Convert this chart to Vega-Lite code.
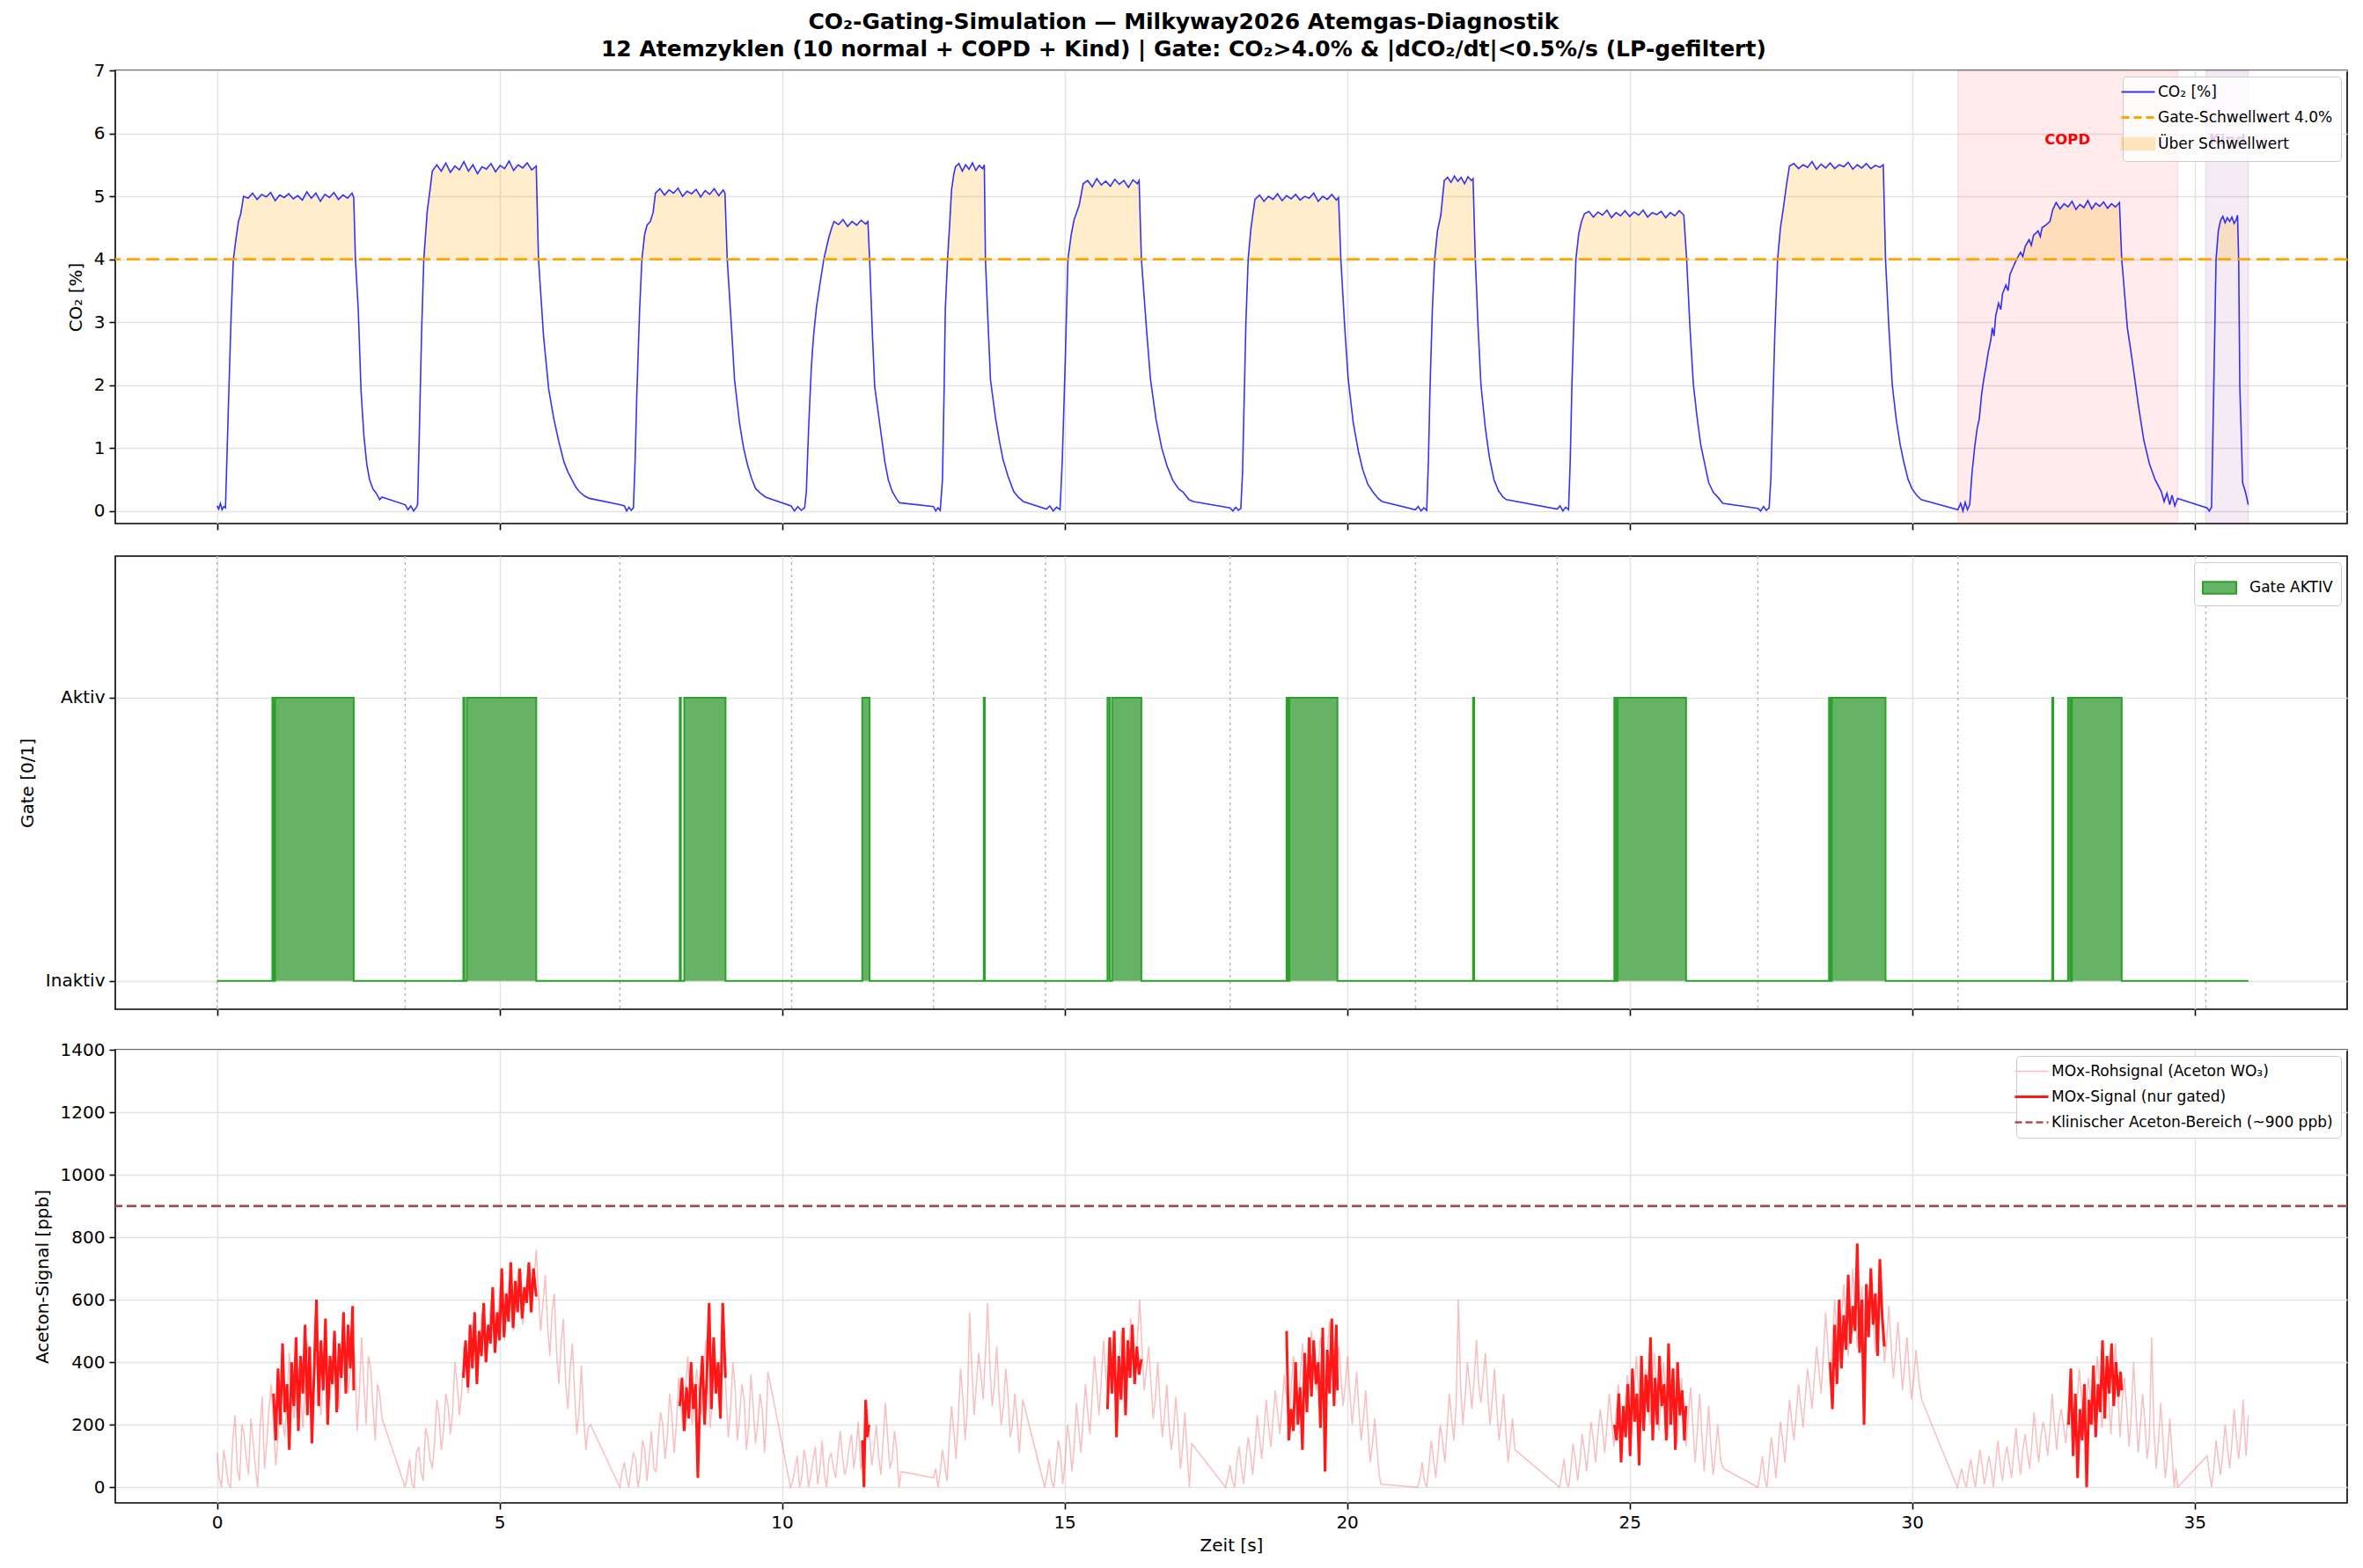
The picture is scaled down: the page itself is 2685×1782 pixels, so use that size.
{
  "$schema": "https://vega.github.io/schema/vega-lite/v6.json",
  "background": "white",
  "padding": {"left": 20, "top": 13, "right": 17, "bottom": 10},
  "title": {
    "text": ["CO₂-Gating-Simulation — Milkyway2026 Atemgas-Diagnostik", "12 Atemzyklen (10 normal + COPD + Kind) | Gate: CO₂>4.0% & |dCO₂/dt|<0.5%/s (LP-gefiltert)"],
    "fontSize": 25, "fontWeight": "bold", "lineHeight": 31, "offset": 0, "anchor": "middle", "color": "black", "font": "DejaVu Sans"
  },
  "config": {
    "font": "DejaVu Sans",
    "view": {"stroke": "black", "strokeWidth": 1.6},
    "axis": {"domain": false, "tickColor": "black", "tickSize": 7, "tickWidth": 1.6, "labelFontSize": 20, "labelColor": "black", "titleFontSize": 20, "titleFontWeight": "normal", "titleColor": "black", "gridColor": "#e3e3e3", "gridWidth": 1.5, "labelPadding": 5, "titlePadding": 10, "labelFont": "DejaVu Sans", "titleFont": "DejaVu Sans", "format": "d"},
    "legend": {"orient": "top-right", "offset": 7, "labelFontSize": 17, "labelFont": "DejaVu Sans", "labelColor": "black", "fillColor": "rgba(255,255,255,0.8)", "strokeColor": "#cccccc", "padding": 9, "cornerRadius": 4, "symbolSize": 1444, "labelOffset": 14, "rowPadding": 11, "labelLimit": 500}
  },
  "resolve": {"scale": {"color": "independent", "fill": "independent", "stroke": "independent"}, "legend": {"color": "independent"}},
  "datasets": {
    "zones": [{"a": 30.81, "b": 34.7, "m": 32.75, "z": "COPD"}, {"a": 35.2, "b": 35.95, "m": 35.58, "z": "Kind"}],
    "starts": [{"t": 0}, {"t": 3.33}, {"t": 7.13}, {"t": 10.17}, {"t": 12.68}, {"t": 14.66}, {"t": 17.93}, {"t": 21.21}, {"t": 23.72}, {"t": 27.27}, {"t": 30.81}, {"t": 35.2}],
    "co2": [
      {"t":0,"c":0.08},{"t":0.03,"c":0.03},{"t":0.06,"c":0.12},{"t":0.09,"c":0.02},{"t":0.12,"c":0.07},{"t":0.15,"c":0.05},{"t":0.2,"c":1.6},{"t":0.25,"c":3.1},
      {"t":0.29,"c":4,"k":1},{"t":0.34,"c":4.35,"k":1},{"t":0.38,"c":4.6,"k":1},{"t":0.42,"c":4.72,"k":1},{"t":0.47,"c":5,"k":1},{"t":0.55,"c":4.97,"k":1},{"t":0.63,"c":5.05,"k":1},{"t":0.71,"c":4.95,"k":1},{"t":0.79,"c":5.03,"k":1},{"t":0.87,"c":4.99,"k":1},{"t":0.95,"c":5.06,"k":1},{"t":1.03,"c":4.93,"k":1},{"t":1.11,"c":5.02,"k":1},{"t":1.19,"c":4.98,"k":1},{"t":1.27,"c":5.04,"k":1},{"t":1.35,"c":4.96,"k":1},{"t":1.43,"c":5.01,"k":1},{"t":1.51,"c":4.94,"k":1},{"t":1.59,"c":5.07,"k":1},{"t":1.67,"c":4.97,"k":1},{"t":1.75,"c":5.05,"k":1},{"t":1.83,"c":4.92,"k":1},{"t":1.91,"c":5.03,"k":1},{"t":1.99,"c":4.98,"k":1},{"t":2.07,"c":5.06,"k":1},{"t":2.15,"c":4.95,"k":1},{"t":2.23,"c":5.02,"k":1},{"t":2.31,"c":4.97,"k":1},{"t":2.39,"c":5.05,"k":1},{"t":2.42,"c":4.98,"k":1},{"t":2.45,"c":4,"k":1},
      {"t":2.5,"c":3.2},{"t":2.55,"c":1.9},{"t":2.6,"c":1.2},{"t":2.65,"c":0.75},{"t":2.7,"c":0.5},{"t":2.76,"c":0.35},{"t":2.82,"c":0.28},{"t":2.88,"c":0.18},{"t":2.92,"c":0.22},{"t":3.33,"c":0.1},{"t":3.38,"c":0.02},{"t":3.43,"c":0.08},{"t":3.48,"c":0},{"t":3.53,"c":0.06},
      {"t":3.55,"c":0.1},{"t":3.58,"c":1.2},{"t":3.62,"c":2.8},{"t":3.66,"c":4,"k":2},{"t":3.72,"c":4.75,"k":2},{"t":3.77,"c":5.1,"k":2},{"t":3.81,"c":5.4,"k":2},{"t":3.89,"c":5.5,"k":2},{"t":3.97,"c":5.4,"k":2},{"t":4.05,"c":5.53,"k":2},{"t":4.13,"c":5.38,"k":2},{"t":4.21,"c":5.48,"k":2},{"t":4.29,"c":5.42,"k":2},{"t":4.37,"c":5.55,"k":2},{"t":4.45,"c":5.4,"k":2},{"t":4.53,"c":5.5,"k":2},{"t":4.61,"c":5.36,"k":2},{"t":4.69,"c":5.47,"k":2},{"t":4.77,"c":5.43,"k":2},{"t":4.85,"c":5.52,"k":2},{"t":4.93,"c":5.39,"k":2},{"t":5.01,"c":5.49,"k":2},{"t":5.09,"c":5.44,"k":2},{"t":5.17,"c":5.56,"k":2},{"t":5.25,"c":5.41,"k":2},{"t":5.33,"c":5.5,"k":2},{"t":5.41,"c":5.45,"k":2},{"t":5.49,"c":5.53,"k":2},{"t":5.57,"c":5.42,"k":2},{"t":5.65,"c":5.48,"k":2},{"t":5.69,"c":4,"k":2},
      {"t":5.78,"c":2.77},{"t":5.87,"c":1.94},{"t":5.96,"c":1.47},{"t":6.05,"c":1.1},{"t":6.14,"c":0.78},{"t":6.21,"c":0.62},{"t":6.28,"c":0.5},{"t":6.35,"c":0.38},{"t":6.41,"c":0.31},{"t":6.5,"c":0.24},{"t":6.59,"c":0.2},{"t":7.13,"c":0.1},{"t":7.21,"c":0.08},{"t":7.25,"c":0},{"t":7.29,"c":0.06},{"t":7.33,"c":0.01},{"t":7.37,"c":0.05},
      {"t":7.4,"c":0.8},{"t":7.43,"c":1.84},{"t":7.48,"c":3.2},{"t":7.52,"c":4,"k":3},{"t":7.57,"c":4.4,"k":3},{"t":7.61,"c":4.54,"k":3},{"t":7.67,"c":4.6,"k":3},{"t":7.72,"c":4.75,"k":3},{"t":7.76,"c":5.05,"k":3},{"t":7.84,"c":5.12,"k":3},{"t":7.92,"c":5.02,"k":3},{"t":8,"c":5.1,"k":3},{"t":8.08,"c":5.05,"k":3},{"t":8.16,"c":5.13,"k":3},{"t":8.24,"c":5,"k":3},{"t":8.32,"c":5.08,"k":3},{"t":8.4,"c":5.04,"k":3},{"t":8.48,"c":5.11,"k":3},{"t":8.56,"c":4.99,"k":3},{"t":8.64,"c":5.09,"k":3},{"t":8.72,"c":5.03,"k":3},{"t":8.8,"c":5.12,"k":3},{"t":8.88,"c":5.01,"k":3},{"t":8.96,"c":5.1,"k":3},{"t":8.99,"c":5.05,"k":3},{"t":9.03,"c":4,"k":3},
      {"t":9.1,"c":3},{"t":9.16,"c":2.08},{"t":9.25,"c":1.38},{"t":9.32,"c":1},{"t":9.39,"c":0.73},{"t":9.46,"c":0.52},{"t":9.53,"c":0.36},{"t":9.62,"c":0.28},{"t":9.71,"c":0.22},{"t":10.16,"c":0.08},{"t":10.22,"c":0},{"t":10.28,"c":0.07},{"t":10.34,"c":0.01},{"t":10.4,"c":0.05},
      {"t":10.43,"c":0.3},{"t":10.47,"c":1.3},{"t":10.52,"c":2.31},{"t":10.56,"c":2.8},{"t":10.61,"c":3.24},{"t":10.67,"c":3.6},{"t":10.74,"c":4,"k":4},{"t":10.79,"c":4.2,"k":4},{"t":10.83,"c":4.35,"k":4},{"t":10.88,"c":4.5,"k":4},{"t":10.92,"c":4.6,"k":4},{"t":11,"c":4.55,"k":4},{"t":11.08,"c":4.63,"k":4},{"t":11.16,"c":4.52,"k":4},{"t":11.24,"c":4.6,"k":4},{"t":11.32,"c":4.54,"k":4},{"t":11.4,"c":4.62,"k":4},{"t":11.48,"c":4.56,"k":4},{"t":11.52,"c":4.6,"k":4},{"t":11.55,"c":4,"k":4},
      {"t":11.6,"c":2.8},{"t":11.64,"c":1.98},{"t":11.73,"c":1.38},{"t":11.82,"c":0.78},{"t":11.88,"c":0.5},{"t":11.95,"c":0.31},{"t":12.02,"c":0.2},{"t":12.08,"c":0.13},{"t":12.68,"c":0.07},{"t":12.72,"c":0},{"t":12.76,"c":0.05},{"t":12.8,"c":0.01},
      {"t":12.84,"c":0.5},{"t":12.87,"c":2},{"t":12.89,"c":3.2},{"t":12.93,"c":4,"k":5},{"t":12.97,"c":4.6,"k":5},{"t":13,"c":5.1,"k":5},{"t":13.04,"c":5.35,"k":5},{"t":13.07,"c":5.47,"k":5},{"t":13.13,"c":5.52,"k":5},{"t":13.19,"c":5.4,"k":5},{"t":13.25,"c":5.5,"k":5},{"t":13.31,"c":5.43,"k":5},{"t":13.37,"c":5.53,"k":5},{"t":13.43,"c":5.41,"k":5},{"t":13.49,"c":5.49,"k":5},{"t":13.55,"c":5.44,"k":5},{"t":13.58,"c":5.5,"k":5},{"t":13.6,"c":4,"k":5},
      {"t":13.65,"c":2.9},{"t":13.69,"c":2.08},{"t":13.78,"c":1.47},{"t":13.85,"c":1.1},{"t":13.91,"c":0.82},{"t":14,"c":0.55},{"t":14.1,"c":0.31},{"t":14.18,"c":0.22},{"t":14.27,"c":0.15},{"t":14.68,"c":0.03},{"t":14.74,"c":0.08},{"t":14.8,"c":0},{"t":14.86,"c":0.06},{"t":14.92,"c":0.02},
      {"t":14.96,"c":0.8},{"t":15.01,"c":2.3},{"t":15.06,"c":4,"k":6},{"t":15.12,"c":4.4,"k":6},{"t":15.17,"c":4.63,"k":6},{"t":15.26,"c":4.86,"k":6},{"t":15.33,"c":5.2,"k":6},{"t":15.41,"c":5.25,"k":6},{"t":15.49,"c":5.15,"k":6},{"t":15.57,"c":5.28,"k":6},{"t":15.65,"c":5.18,"k":6},{"t":15.73,"c":5.24,"k":6},{"t":15.81,"c":5.16,"k":6},{"t":15.89,"c":5.27,"k":6},{"t":15.97,"c":5.19,"k":6},{"t":16.05,"c":5.25,"k":6},{"t":16.13,"c":5.14,"k":6},{"t":16.21,"c":5.26,"k":6},{"t":16.29,"c":5.2,"k":6},{"t":16.32,"c":5.25,"k":6},{"t":16.36,"c":4,"k":6},
      {"t":16.45,"c":2.9},{"t":16.52,"c":2.1},{"t":16.62,"c":1.45},{"t":16.72,"c":1},{"t":16.82,"c":0.7},{"t":16.92,"c":0.48},{"t":17.02,"c":0.35},{"t":17.1,"c":0.3},{"t":17.2,"c":0.18},{"t":17.28,"c":0.15},{"t":17.93,"c":0.05},{"t":17.98,"c":0},{"t":18.03,"c":0.06},{"t":18.08,"c":0.01},{"t":18.12,"c":0.04},
      {"t":18.15,"c":0.6},{"t":18.18,"c":1.8},{"t":18.21,"c":3},{"t":18.25,"c":4,"k":7},{"t":18.3,"c":4.5,"k":7},{"t":18.37,"c":4.95,"k":7},{"t":18.45,"c":5.02,"k":7},{"t":18.53,"c":4.92,"k":7},{"t":18.61,"c":5,"k":7},{"t":18.69,"c":4.95,"k":7},{"t":18.77,"c":5.04,"k":7},{"t":18.85,"c":4.93,"k":7},{"t":18.93,"c":5.01,"k":7},{"t":19.01,"c":4.96,"k":7},{"t":19.09,"c":5.03,"k":7},{"t":19.17,"c":4.94,"k":7},{"t":19.25,"c":5,"k":7},{"t":19.33,"c":4.97,"k":7},{"t":19.41,"c":5.05,"k":7},{"t":19.49,"c":4.92,"k":7},{"t":19.57,"c":5,"k":7},{"t":19.65,"c":4.95,"k":7},{"t":19.73,"c":5.03,"k":7},{"t":19.81,"c":4.94,"k":7},{"t":19.85,"c":4.98,"k":7},{"t":19.89,"c":4,"k":7},
      {"t":19.96,"c":2.9},{"t":20.02,"c":2.1},{"t":20.11,"c":1.4},{"t":20.2,"c":0.95},{"t":20.28,"c":0.65},{"t":20.37,"c":0.42},{"t":20.46,"c":0.3},{"t":20.55,"c":0.2},{"t":20.62,"c":0.15},{"t":21.21,"c":0.02},{"t":21.26,"c":0.07},{"t":21.31,"c":0},{"t":21.36,"c":0.05},{"t":21.41,"c":0.01},
      {"t":21.44,"c":0.8},{"t":21.47,"c":2},{"t":21.51,"c":3.2},{"t":21.55,"c":4,"k":8},{"t":21.6,"c":4.45,"k":8},{"t":21.66,"c":4.7,"k":8},{"t":21.72,"c":5.25,"k":8},{"t":21.78,"c":5.3,"k":8},{"t":21.84,"c":5.22,"k":8},{"t":21.9,"c":5.32,"k":8},{"t":21.96,"c":5.24,"k":8},{"t":22.02,"c":5.3,"k":8},{"t":22.08,"c":5.2,"k":8},{"t":22.14,"c":5.31,"k":8},{"t":22.2,"c":5.25,"k":8},{"t":22.23,"c":5.28,"k":8},{"t":22.27,"c":4,"k":8},
      {"t":22.32,"c":2.9},{"t":22.37,"c":2},{"t":22.45,"c":1.3},{"t":22.52,"c":0.85},{"t":22.6,"c":0.5},{"t":22.68,"c":0.32},{"t":22.76,"c":0.22},{"t":22.82,"c":0.18},{"t":23.72,"c":0.03},{"t":23.77,"c":0.08},{"t":23.82,"c":0},{"t":23.87,"c":0.06},{"t":23.92,"c":0.02},
      {"t":23.95,"c":0.8},{"t":23.98,"c":2},{"t":24.02,"c":3.2},{"t":24.05,"c":4,"k":9},{"t":24.1,"c":4.4,"k":9},{"t":24.15,"c":4.6,"k":9},{"t":24.2,"c":4.72,"k":9},{"t":24.28,"c":4.76,"k":9},{"t":24.36,"c":4.67,"k":9},{"t":24.44,"c":4.75,"k":9},{"t":24.52,"c":4.7,"k":9},{"t":24.6,"c":4.78,"k":9},{"t":24.68,"c":4.66,"k":9},{"t":24.76,"c":4.74,"k":9},{"t":24.84,"c":4.69,"k":9},{"t":24.92,"c":4.77,"k":9},{"t":25,"c":4.68,"k":9},{"t":25.08,"c":4.75,"k":9},{"t":25.16,"c":4.7,"k":9},{"t":25.24,"c":4.78,"k":9},{"t":25.32,"c":4.67,"k":9},{"t":25.4,"c":4.74,"k":9},{"t":25.48,"c":4.71,"k":9},{"t":25.56,"c":4.76,"k":9},{"t":25.64,"c":4.66,"k":9},{"t":25.72,"c":4.74,"k":9},{"t":25.8,"c":4.69,"k":9},{"t":25.88,"c":4.77,"k":9},{"t":25.96,"c":4.7,"k":9},{"t":26.01,"c":4,"k":9},
      {"t":26.07,"c":2.9},{"t":26.13,"c":2},{"t":26.2,"c":1.45},{"t":26.26,"c":1.05},{"t":26.33,"c":0.75},{"t":26.4,"c":0.45},{"t":26.48,"c":0.3},{"t":26.58,"c":0.2},{"t":26.65,"c":0.12},{"t":27.27,"c":0.04},{"t":27.32,"c":0},{"t":27.37,"c":0.07},{"t":27.42,"c":0.01},{"t":27.47,"c":0.05},
      {"t":27.5,"c":0.5},{"t":27.53,"c":1.5},{"t":27.57,"c":2.8},{"t":27.62,"c":4,"k":10},{"t":27.67,"c":4.5,"k":10},{"t":27.72,"c":4.8,"k":10},{"t":27.78,"c":5.2,"k":10},{"t":27.83,"c":5.48,"k":10},{"t":27.91,"c":5.52,"k":10},{"t":27.99,"c":5.44,"k":10},{"t":28.07,"c":5.5,"k":10},{"t":28.15,"c":5.46,"k":10},{"t":28.23,"c":5.55,"k":10},{"t":28.31,"c":5.43,"k":10},{"t":28.39,"c":5.51,"k":10},{"t":28.47,"c":5.45,"k":10},{"t":28.55,"c":5.53,"k":10},{"t":28.63,"c":5.44,"k":10},{"t":28.71,"c":5.5,"k":10},{"t":28.79,"c":5.47,"k":10},{"t":28.87,"c":5.54,"k":10},{"t":28.95,"c":5.43,"k":10},{"t":29.03,"c":5.5,"k":10},{"t":29.11,"c":5.45,"k":10},{"t":29.19,"c":5.52,"k":10},{"t":29.27,"c":5.44,"k":10},{"t":29.35,"c":5.49,"k":10},{"t":29.43,"c":5.46,"k":10},{"t":29.49,"c":5.5,"k":10},{"t":29.53,"c":4,"k":10},
      {"t":29.59,"c":2.9},{"t":29.65,"c":2},{"t":29.72,"c":1.45},{"t":29.79,"c":1.05},{"t":29.86,"c":0.75},{"t":29.93,"c":0.5},{"t":30,"c":0.35},{"t":30.08,"c":0.25},{"t":30.16,"c":0.18},{"t":30.81,"c":0.02},{"t":30.86,"c":0.12},{"t":30.9,"c":0},{"t":30.94,"c":0.14},{"t":30.98,"c":0.02},{"t":31.02,"c":0.1},
      {"t":31.06,"c":0.6},{"t":31.11,"c":1.03},{"t":31.15,"c":1.3},{"t":31.19,"c":1.47},{"t":31.23,"c":1.85},{"t":31.27,"c":2.1},{"t":31.31,"c":2.3},{"t":31.35,"c":2.53},{"t":31.39,"c":2.7},{"t":31.42,"c":2.91},{"t":31.45,"c":2.78},{"t":31.48,"c":3.1},{"t":31.53,"c":3.3},{"t":31.57,"c":3.2},{"t":31.6,"c":3.45},{"t":31.66,"c":3.59},{"t":31.7,"c":3.5},{"t":31.73,"c":3.75},{"t":31.81,"c":3.92},
      {"t":31.85,"c":4,"k":11},{"t":31.92,"c":4.11,"k":11},{"t":31.96,"c":4.04,"k":11},{"t":32,"c":4.2,"k":11},{"t":32.07,"c":4.31,"k":11},{"t":32.11,"c":4.22,"k":11},{"t":32.15,"c":4.38,"k":11},{"t":32.23,"c":4.45,"k":11},{"t":32.27,"c":4.36,"k":11},{"t":32.3,"c":4.5,"k":11},{"t":32.38,"c":4.55,"k":11},{"t":32.44,"c":4.6,"k":11},{"t":32.49,"c":4.79,"k":11},{"t":32.55,"c":4.9,"k":11},{"t":32.62,"c":4.8,"k":11},{"t":32.69,"c":4.88,"k":11},{"t":32.76,"c":4.83,"k":11},{"t":32.83,"c":4.92,"k":11},{"t":32.9,"c":4.79,"k":11},{"t":32.97,"c":4.87,"k":11},{"t":33.04,"c":4.82,"k":11},{"t":33.11,"c":4.93,"k":11},{"t":33.18,"c":4.8,"k":11},{"t":33.25,"c":4.89,"k":11},{"t":33.32,"c":4.84,"k":11},{"t":33.39,"c":4.91,"k":11},{"t":33.46,"c":4.81,"k":11},{"t":33.53,"c":4.88,"k":11},{"t":33.6,"c":4.83,"k":11},{"t":33.67,"c":4.9,"k":11},{"t":33.71,"c":4,"k":11},
      {"t":33.74,"c":3.68},{"t":33.81,"c":2.91},{"t":33.89,"c":2.43},{"t":34,"c":1.71},{"t":34.1,"c":1.13},{"t":34.2,"c":0.75},{"t":34.3,"c":0.5},{"t":34.41,"c":0.31},{"t":34.46,"c":0.15},{"t":34.51,"c":0.28},{"t":34.56,"c":0.1},{"t":34.6,"c":0.25},{"t":34.65,"c":0.08},{"t":34.7,"c":0.2},{"t":35.22,"c":0.05},{"t":35.26,"c":0},{"t":35.3,"c":0.06},
      {"t":35.34,"c":2},{"t":35.38,"c":4,"k":12},{"t":35.42,"c":4.45,"k":12},{"t":35.46,"c":4.62,"k":12},{"t":35.5,"c":4.68,"k":12},{"t":35.54,"c":4.58,"k":12},{"t":35.58,"c":4.66,"k":12},{"t":35.62,"c":4.6,"k":12},{"t":35.66,"c":4.67,"k":12},{"t":35.7,"c":4.57,"k":12},{"t":35.74,"c":4.63,"k":12},{"t":35.76,"c":4.7,"k":12},{"t":35.78,"c":4,"k":12},{"t":35.8,"c":2},{"t":35.85,"c":0.45},{"t":35.9,"c":0.3},{"t":35.95,"c":0.1}
    ],
    "gate": [
      {"t":0,"g":0},{"t":0.98,"g":1},{"t":1.01,"g":0},{"t":1.03,"g":1},{"t":2.42,"g":0},{"t":4.36,"g":1},{"t":4.38,"g":0},{"t":4.42,"g":1},{"t":5.65,"g":0},{"t":8.19,"g":1},{"t":8.21,"g":0},{"t":8.27,"g":1},{"t":9,"g":0},{"t":11.42,"g":1},{"t":11.55,"g":0},{"t":13.57,"g":1},{"t":13.59,"g":0},{"t":15.76,"g":1},{"t":15.8,"g":0},{"t":15.84,"g":1},{"t":16.36,"g":0},{"t":18.93,"g":1},{"t":18.96,"g":0},{"t":18.98,"g":1},{"t":19.83,"g":0},{"t":22.23,"g":1},{"t":22.25,"g":0},{"t":24.73,"g":1},{"t":24.76,"g":0},{"t":24.79,"g":1},{"t":26,"g":0},{"t":28.53,"g":1},{"t":28.56,"g":0},{"t":28.58,"g":1},{"t":29.53,"g":0},{"t":32.48,"g":1},{"t":32.5,"g":0},{"t":32.76,"g":1},{"t":32.8,"g":0},{"t":32.83,"g":1},{"t":33.71,"g":0},{"t":35.95,"g":0}
    ],
    "mox": [
      {"t":0,"v":110},{"t":0.08,"v":0},{"t":0.16,"v":70},{"t":0.24,"v":0},{"t":0.32,"v":230},{"t":0.4,"v":20},{"t":0.48,"v":170},{"t":0.56,"v":40},{"t":0.64,"v":150},{"t":0.72,"v":0},{"t":0.8,"v":290},{"t":0.88,"v":140},{"t":0.96,"v":330},{"t":1.04,"v":70},{"t":1.12,"v":260},{"t":1.2,"v":160},{"t":1.28,"v":430},{"t":1.36,"v":220},{"t":1.44,"v":380},{"t":1.52,"v":190},{"t":1.6,"v":470},{"t":1.68,"v":250},{"t":1.76,"v":420},{"t":1.84,"v":230},{"t":1.92,"v":500},{"t":2,"v":280},{"t":2.08,"v":460},{"t":2.16,"v":250},{"t":2.24,"v":520},{"t":2.32,"v":300},{"t":2.4,"v":450},{"t":2.48,"v":180},{"t":2.56,"v":480},{"t":2.64,"v":200},{"t":2.72,"v":380},{"t":2.8,"v":150},{"t":2.88,"v":300},{"t":2.92,"v":220},
      {"t":3.33,"v":0},{"t":3.41,"v":90},{"t":3.49,"v":0},{"t":3.57,"v":130},{"t":3.65,"v":20},{"t":3.73,"v":160},{"t":3.81,"v":60},{"t":3.89,"v":280},{"t":3.97,"v":120},{"t":4.05,"v":300},{"t":4.13,"v":170},{"t":4.21,"v":400},{"t":4.29,"v":230},{"t":4.37,"v":450},{"t":4.45,"v":300},{"t":4.53,"v":520},{"t":4.61,"v":380},{"t":4.69,"v":560},{"t":4.77,"v":400},{"t":4.85,"v":600},{"t":4.93,"v":430},{"t":5.01,"v":640},{"t":5.09,"v":470},{"t":5.17,"v":660},{"t":5.25,"v":500},{"t":5.33,"v":700},{"t":5.41,"v":520},{"t":5.49,"v":680},{"t":5.57,"v":560},{"t":5.65,"v":760},{"t":5.73,"v":500},{"t":5.81,"v":680},{"t":5.89,"v":420},{"t":5.97,"v":620},{"t":6.05,"v":330},{"t":6.13,"v":540},{"t":6.21,"v":250},{"t":6.29,"v":460},{"t":6.37,"v":170},{"t":6.45,"v":390},{"t":6.53,"v":120},{"t":6.61,"v":200},
      {"t":7.13,"v":0},{"t":7.21,"v":80},{"t":7.29,"v":0},{"t":7.37,"v":110},{"t":7.45,"v":0},{"t":7.53,"v":150},{"t":7.61,"v":20},{"t":7.69,"v":180},{"t":7.77,"v":50},{"t":7.85,"v":240},{"t":7.93,"v":90},{"t":8.01,"v":300},{"t":8.09,"v":110},{"t":8.17,"v":350},{"t":8.25,"v":180},{"t":8.33,"v":420},{"t":8.41,"v":200},{"t":8.49,"v":380},{"t":8.57,"v":230},{"t":8.65,"v":470},{"t":8.73,"v":190},{"t":8.81,"v":400},{"t":8.89,"v":250},{"t":8.97,"v":430},{"t":9.05,"v":160},{"t":9.13,"v":400},{"t":9.21,"v":150},{"t":9.29,"v":330},{"t":9.37,"v":120},{"t":9.45,"v":360},{"t":9.53,"v":140},{"t":9.61,"v":300},{"t":9.69,"v":110},{"t":9.75,"v":370},
      {"t":10.15,"v":0},{"t":10.23,"v":60},{"t":10.31,"v":0},{"t":10.39,"v":120},{"t":10.47,"v":0},{"t":10.55,"v":90},{"t":10.63,"v":10},{"t":10.71,"v":150},{"t":10.79,"v":0},{"t":10.87,"v":110},{"t":10.95,"v":30},{"t":11.03,"v":180},{"t":11.11,"v":40},{"t":11.19,"v":130},{"t":11.27,"v":60},{"t":11.35,"v":210},{"t":11.43,"v":80},{"t":11.51,"v":250},{"t":11.59,"v":70},{"t":11.67,"v":200},{"t":11.75,"v":40},{"t":11.83,"v":270},{"t":11.91,"v":60},{"t":11.99,"v":180},{"t":12.07,"v":0},{"t":12.11,"v":50},
      {"t":12.68,"v":30},{"t":12.76,"v":0},{"t":12.84,"v":120},{"t":12.92,"v":20},{"t":13,"v":260},{"t":13.08,"v":90},{"t":13.16,"v":380},{"t":13.24,"v":150},{"t":13.32,"v":560},{"t":13.4,"v":230},{"t":13.48,"v":430},{"t":13.56,"v":280},{"t":13.64,"v":590},{"t":13.72,"v":260},{"t":13.8,"v":450},{"t":13.88,"v":200},{"t":13.96,"v":380},{"t":14.04,"v":160},{"t":14.12,"v":300},{"t":14.2,"v":110},{"t":14.26,"v":280},
      {"t":14.65,"v":0},{"t":14.73,"v":90},{"t":14.81,"v":0},{"t":14.89,"v":150},{"t":14.97,"v":10},{"t":15.05,"v":200},{"t":15.13,"v":50},{"t":15.21,"v":270},{"t":15.29,"v":110},{"t":15.37,"v":330},{"t":15.45,"v":170},{"t":15.53,"v":420},{"t":15.61,"v":230},{"t":15.69,"v":470},{"t":15.77,"v":280},{"t":15.85,"v":400},{"t":15.93,"v":330},{"t":16.01,"v":500},{"t":16.09,"v":300},{"t":16.17,"v":540},{"t":16.25,"v":350},{"t":16.33,"v":600},{"t":16.41,"v":310},{"t":16.49,"v":450},{"t":16.57,"v":220},{"t":16.65,"v":400},{"t":16.73,"v":160},{"t":16.81,"v":330},{"t":16.89,"v":120},{"t":16.97,"v":290},{"t":17.05,"v":60},{"t":17.13,"v":240},{"t":17.21,"v":0},{"t":17.25,"v":140},
      {"t":17.85,"v":0},{"t":17.93,"v":70},{"t":18.01,"v":0},{"t":18.09,"v":130},{"t":18.17,"v":10},{"t":18.25,"v":160},{"t":18.33,"v":40},{"t":18.41,"v":230},{"t":18.49,"v":90},{"t":18.57,"v":280},{"t":18.65,"v":130},{"t":18.73,"v":310},{"t":18.81,"v":170},{"t":18.89,"v":360},{"t":18.97,"v":200},{"t":19.05,"v":420},{"t":19.13,"v":240},{"t":19.21,"v":460},{"t":19.29,"v":290},{"t":19.37,"v":500},{"t":19.45,"v":310},{"t":19.53,"v":480},{"t":19.61,"v":330},{"t":19.69,"v":530},{"t":19.77,"v":300},{"t":19.85,"v":450},{"t":19.93,"v":260},{"t":20.01,"v":420},{"t":20.09,"v":200},{"t":20.17,"v":370},{"t":20.25,"v":150},{"t":20.33,"v":310},{"t":20.41,"v":80},{"t":20.49,"v":220},{"t":20.57,"v":40},{"t":20.6,"v":10},
      {"t":21.25,"v":0},{"t":21.33,"v":80},{"t":21.41,"v":0},{"t":21.49,"v":150},{"t":21.57,"v":30},{"t":21.65,"v":200},{"t":21.73,"v":80},{"t":21.81,"v":300},{"t":21.89,"v":150},{"t":21.97,"v":600},{"t":22.05,"v":200},{"t":22.13,"v":400},{"t":22.21,"v":250},{"t":22.29,"v":470},{"t":22.37,"v":270},{"t":22.45,"v":430},{"t":22.53,"v":200},{"t":22.61,"v":380},{"t":22.69,"v":150},{"t":22.77,"v":300},{"t":22.85,"v":80},{"t":22.93,"v":220},{"t":22.97,"v":120},
      {"t":23.76,"v":0},{"t":23.84,"v":90},{"t":23.92,"v":0},{"t":24,"v":140},{"t":24.08,"v":20},{"t":24.16,"v":170},{"t":24.24,"v":50},{"t":24.32,"v":210},{"t":24.4,"v":80},{"t":24.48,"v":250},{"t":24.56,"v":110},{"t":24.64,"v":300},{"t":24.72,"v":130},{"t":24.8,"v":330},{"t":24.88,"v":160},{"t":24.96,"v":360},{"t":25.04,"v":170},{"t":25.12,"v":420},{"t":25.2,"v":190},{"t":25.28,"v":380},{"t":25.36,"v":200},{"t":25.44,"v":430},{"t":25.52,"v":180},{"t":25.6,"v":400},{"t":25.68,"v":160},{"t":25.76,"v":380},{"t":25.84,"v":140},{"t":25.92,"v":350},{"t":26,"v":130},{"t":26.08,"v":320},{"t":26.16,"v":80},{"t":26.24,"v":300},{"t":26.32,"v":50},{"t":26.4,"v":260},{"t":26.48,"v":40},{"t":26.56,"v":200},{"t":26.66,"v":60},
      {"t":27.27,"v":0},{"t":27.35,"v":100},{"t":27.43,"v":0},{"t":27.51,"v":160},{"t":27.59,"v":30},{"t":27.67,"v":210},{"t":27.75,"v":80},{"t":27.83,"v":280},{"t":27.91,"v":150},{"t":27.99,"v":330},{"t":28.07,"v":190},{"t":28.15,"v":380},{"t":28.23,"v":250},{"t":28.31,"v":450},{"t":28.39,"v":300},{"t":28.47,"v":560},{"t":28.55,"v":330},{"t":28.63,"v":600},{"t":28.71,"v":400},{"t":28.79,"v":650},{"t":28.87,"v":420},{"t":28.95,"v":700},{"t":29.03,"v":450},{"t":29.11,"v":640},{"t":29.19,"v":480},{"t":29.27,"v":680},{"t":29.35,"v":430},{"t":29.43,"v":620},{"t":29.51,"v":400},{"t":29.59,"v":580},{"t":29.67,"v":350},{"t":29.75,"v":530},{"t":29.83,"v":310},{"t":29.91,"v":480},{"t":29.99,"v":280},{"t":30.07,"v":440},{"t":30.17,"v":280},
      {"t":30.8,"v":0},{"t":30.88,"v":60},{"t":30.96,"v":0},{"t":31.04,"v":90},{"t":31.12,"v":0},{"t":31.2,"v":120},{"t":31.28,"v":10},{"t":31.36,"v":100},{"t":31.44,"v":0},{"t":31.52,"v":150},{"t":31.6,"v":20},{"t":31.68,"v":130},{"t":31.76,"v":30},{"t":31.84,"v":190},{"t":31.92,"v":40},{"t":32,"v":170},{"t":32.08,"v":60},{"t":32.16,"v":240},{"t":32.24,"v":80},{"t":32.32,"v":210},{"t":32.4,"v":100},{"t":32.48,"v":300},{"t":32.56,"v":120},{"t":32.64,"v":250},{"t":32.72,"v":140},{"t":32.8,"v":330},{"t":32.88,"v":160},{"t":32.96,"v":380},{"t":33.04,"v":180},{"t":33.12,"v":350},{"t":33.2,"v":200},{"t":33.28,"v":420},{"t":33.36,"v":190},{"t":33.44,"v":390},{"t":33.52,"v":170},{"t":33.6,"v":460},{"t":33.68,"v":160},{"t":33.76,"v":350},{"t":33.84,"v":130},{"t":33.92,"v":400},{"t":34,"v":110},{"t":34.08,"v":300},{"t":34.16,"v":90},{"t":34.24,"v":480},{"t":34.32,"v":60},{"t":34.4,"v":270},{"t":34.48,"v":30},{"t":34.56,"v":220},{"t":34.64,"v":0},{"t":34.7,"v":0},
      {"t":35.22,"v":100},{"t":35.3,"v":0},{"t":35.38,"v":150},{"t":35.46,"v":40},{"t":35.54,"v":200},{"t":35.62,"v":60},{"t":35.7,"v":250},{"t":35.78,"v":90},{"t":35.86,"v":280},{"t":35.91,"v":100},{"t":35.95,"v":230},
      {"t":0.04,"v":30},{"t":0.12,"v":120},{"t":0.2,"v":10},{"t":0.28,"v":150},{"t":0.36,"v":60},{"t":0.44,"v":200},{"t":0.52,"v":90},{"t":0.6,"v":220},{"t":0.68,"v":60},{"t":0.76,"v":180},{"t":0.84,"v":60},{"t":0.92,"v":250},{"t":2.44,"v":420},{"t":2.52,"v":300},{"t":2.6,"v":330},{"t":2.68,"v":420},{"t":2.76,"v":260},{"t":2.84,"v":330},
      {"t":3.37,"v":40},{"t":3.45,"v":10},{"t":3.53,"v":110},{"t":3.61,"v":50},{"t":3.69,"v":190},{"t":3.77,"v":90},{"t":3.85,"v":140},{"t":3.93,"v":230},{"t":4.01,"v":180},{"t":4.09,"v":260},{"t":4.17,"v":240},{"t":4.25,"v":330},{"t":4.33,"v":300},{"t":5.69,"v":620},{"t":5.77,"v":590},{"t":5.85,"v":520},{"t":5.93,"v":560},{"t":6.01,"v":430},{"t":6.09,"v":460},{"t":6.17,"v":340},{"t":6.25,"v":380},{"t":6.33,"v":300},{"t":6.41,"v":250},{"t":6.49,"v":220},{"t":6.57,"v":190},
      {"t":7.17,"v":50},{"t":7.25,"v":30},{"t":7.33,"v":60},{"t":7.41,"v":90},{"t":7.49,"v":40},{"t":7.57,"v":120},{"t":7.65,"v":100},{"t":7.73,"v":60},{"t":7.81,"v":150},{"t":7.89,"v":200},{"t":7.97,"v":160},{"t":8.05,"v":230},{"t":8.13,"v":200},{"t":9.01,"v":300},{"t":9.09,"v":250},{"t":9.17,"v":320},{"t":9.25,"v":230},{"t":9.33,"v":280},{"t":9.41,"v":190},{"t":9.49,"v":260},{"t":9.57,"v":200},{"t":9.65,"v":250},{"t":9.72,"v":200},
      {"t":10.19,"v":20},{"t":10.27,"v":100},{"t":10.35,"v":30},{"t":10.43,"v":80},{"t":10.51,"v":40},{"t":10.59,"v":130},{"t":10.67,"v":60},{"t":10.75,"v":40},{"t":10.83,"v":90},{"t":10.91,"v":60},{"t":10.99,"v":110},{"t":11.07,"v":100},{"t":11.15,"v":70},{"t":11.23,"v":170},{"t":11.31,"v":120},{"t":11.39,"v":60},{"t":11.55,"v":160},{"t":11.63,"v":130},{"t":11.71,"v":100},{"t":11.79,"v":150},{"t":11.87,"v":160},{"t":11.95,"v":90},{"t":12.03,"v":120},
      {"t":12.72,"v":60},{"t":12.8,"v":50},{"t":12.88,"v":70},{"t":12.96,"v":150},{"t":13.04,"v":180},{"t":13.12,"v":220},{"t":13.2,"v":290},{"t":13.28,"v":250},{"t":13.36,"v":380},{"t":13.44,"v":330},{"t":13.52,"v":360},{"t":13.6,"v":420},{"t":13.68,"v":380},{"t":13.76,"v":330},{"t":13.84,"v":300},{"t":13.92,"v":260},{"t":14,"v":290},{"t":14.08,"v":200},{"t":14.16,"v":220},{"t":14.23,"v":190},
      {"t":14.69,"v":40},{"t":14.77,"v":20},{"t":14.85,"v":70},{"t":14.93,"v":110},{"t":15.01,"v":80},{"t":15.09,"v":150},{"t":15.17,"v":130},{"t":15.25,"v":190},{"t":15.33,"v":220},{"t":15.41,"v":240},{"t":15.49,"v":300},{"t":15.57,"v":330},{"t":15.65,"v":340},{"t":15.73,"v":360},{"t":16.37,"v":450},{"t":16.45,"v":380},{"t":16.53,"v":330},{"t":16.61,"v":290},{"t":16.69,"v":270},{"t":16.77,"v":230},{"t":16.85,"v":200},{"t":16.93,"v":180},{"t":17.01,"v":190},{"t":17.09,"v":130},{"t":17.17,"v":110},
      {"t":17.89,"v":30},{"t":17.97,"v":20},{"t":18.05,"v":80},{"t":18.13,"v":60},{"t":18.21,"v":90},{"t":18.29,"v":110},{"t":18.37,"v":120},{"t":18.45,"v":160},{"t":18.53,"v":180},{"t":18.61,"v":200},{"t":18.69,"v":220},{"t":18.77,"v":240},{"t":18.85,"v":260},{"t":19.89,"v":360},{"t":19.97,"v":330},{"t":20.05,"v":300},{"t":20.13,"v":280},{"t":20.21,"v":250},{"t":20.29,"v":220},{"t":20.37,"v":190},{"t":20.45,"v":140},{"t":20.53,"v":120},
      {"t":21.29,"v":30},{"t":21.37,"v":20},{"t":21.45,"v":70},{"t":21.53,"v":90},{"t":21.61,"v":110},{"t":21.69,"v":150},{"t":21.77,"v":180},{"t":21.85,"v":220},{"t":21.93,"v":260},{"t":22.01,"v":320},{"t":22.09,"v":290},{"t":22.17,"v":330},{"t":22.25,"v":350},{"t":22.33,"v":330},{"t":22.41,"v":350},{"t":22.49,"v":300},{"t":22.57,"v":280},{"t":22.65,"v":250},{"t":22.73,"v":210},{"t":22.81,"v":180},{"t":22.89,"v":150},
      {"t":23.8,"v":40},{"t":23.88,"v":20},{"t":23.96,"v":60},{"t":24.04,"v":90},{"t":24.12,"v":80},{"t":24.2,"v":120},{"t":24.28,"v":130},{"t":24.36,"v":150},{"t":24.44,"v":170},{"t":24.52,"v":190},{"t":24.6,"v":200},{"t":24.68,"v":220},{"t":26.04,"v":230},{"t":26.12,"v":200},{"t":26.2,"v":180},{"t":26.28,"v":170},{"t":26.36,"v":150},{"t":26.44,"v":130},{"t":26.52,"v":110},{"t":26.61,"v":90},
      {"t":27.31,"v":40},{"t":27.39,"v":30},{"t":27.47,"v":80},{"t":27.55,"v":100},{"t":27.63,"v":120},{"t":27.71,"v":150},{"t":27.79,"v":180},{"t":27.87,"v":210},{"t":27.95,"v":240},{"t":28.03,"v":260},{"t":28.11,"v":290},{"t":28.19,"v":320},{"t":28.27,"v":350},{"t":28.35,"v":380},{"t":28.43,"v":420},{"t":28.51,"v":450},{"t":29.55,"v":470},{"t":29.63,"v":450},{"t":29.71,"v":430},{"t":29.79,"v":420},{"t":29.87,"v":390},{"t":29.95,"v":370},{"t":30.03,"v":350},{"t":30.12,"v":340},
      {"t":30.84,"v":30},{"t":30.92,"v":20},{"t":31,"v":50},{"t":31.08,"v":40},{"t":31.16,"v":60},{"t":31.24,"v":70},{"t":31.32,"v":50},{"t":31.4,"v":60},{"t":31.48,"v":80},{"t":31.56,"v":70},{"t":31.64,"v":90},{"t":31.72,"v":80},{"t":31.8,"v":110},{"t":31.88,"v":100},{"t":31.96,"v":120},{"t":32.04,"v":110},{"t":32.12,"v":140},{"t":32.2,"v":150},{"t":32.28,"v":160},{"t":32.36,"v":170},{"t":32.44,"v":180},{"t":32.52,"v":200},{"t":32.6,"v":210},{"t":32.68,"v":200},{"t":32.76,"v":230},{"t":33.72,"v":280},{"t":33.8,"v":250},{"t":33.88,"v":230},{"t":33.96,"v":260},{"t":34.04,"v":200},{"t":34.12,"v":210},{"t":34.2,"v":160},{"t":34.28,"v":190},{"t":34.36,"v":140},{"t":34.44,"v":150},{"t":34.52,"v":100},{"t":34.6,"v":110},{"t":34.67,"v":60},
      {"t":35.26,"v":50},{"t":35.34,"v":60},{"t":35.42,"v":90},{"t":35.5,"v":110},{"t":35.58,"v":130},{"t":35.66,"v":140},{"t":35.74,"v":160},{"t":35.82,"v":170},{"t":35.88,"v":190},{"t":35.93,"v":150}
    ],
    "moxg": [
      {"t":1,"v":300,"s":1},{"t":1.04,"v":150,"s":1},{"t":1.08,"v":380,"s":1},{"t":1.12,"v":200,"s":1},{"t":1.16,"v":460,"s":1},{"t":1.2,"v":240,"s":1},{"t":1.24,"v":330,"s":1},{"t":1.28,"v":120,"s":1},{"t":1.32,"v":400,"s":1},{"t":1.36,"v":260,"s":1},{"t":1.4,"v":480,"s":1},{"t":1.44,"v":180,"s":1},{"t":1.48,"v":420,"s":1},{"t":1.52,"v":300,"s":1},{"t":1.56,"v":520,"s":1},{"t":1.6,"v":230,"s":1},{"t":1.64,"v":450,"s":1},{"t":1.68,"v":140,"s":1},{"t":1.72,"v":380,"s":1},{"t":1.76,"v":600,"s":1},{"t":1.8,"v":260,"s":1},{"t":1.84,"v":470,"s":1},{"t":1.88,"v":310,"s":1},{"t":1.92,"v":540,"s":1},{"t":1.96,"v":200,"s":1},{"t":2,"v":420,"s":1},{"t":2.04,"v":330,"s":1},{"t":2.08,"v":500,"s":1},{"t":2.12,"v":240,"s":1},{"t":2.16,"v":460,"s":1},{"t":2.2,"v":350,"s":1},{"t":2.24,"v":560,"s":1},{"t":2.28,"v":300,"s":1},{"t":2.32,"v":520,"s":1},{"t":2.36,"v":380,"s":1},{"t":2.4,"v":580,"s":1},{"t":2.42,"v":310,"s":1},
      {"t":4.36,"v":350,"s":2},{"t":4.4,"v":470,"s":2},{"t":4.44,"v":320,"s":2},{"t":4.48,"v":520,"s":2},{"t":4.52,"v":380,"s":2},{"t":4.56,"v":560,"s":2},{"t":4.6,"v":330,"s":2},{"t":4.64,"v":500,"s":2},{"t":4.68,"v":420,"s":2},{"t":4.72,"v":590,"s":2},{"t":4.76,"v":400,"s":2},{"t":4.8,"v":520,"s":2},{"t":4.84,"v":460,"s":2},{"t":4.88,"v":640,"s":2},{"t":4.92,"v":430,"s":2},{"t":4.96,"v":560,"s":2},{"t":5,"v":470,"s":2},{"t":5.04,"v":700,"s":2},{"t":5.08,"v":480,"s":2},{"t":5.12,"v":620,"s":2},{"t":5.16,"v":530,"s":2},{"t":5.2,"v":720,"s":2},{"t":5.24,"v":510,"s":2},{"t":5.28,"v":660,"s":2},{"t":5.32,"v":560,"s":2},{"t":5.36,"v":700,"s":2},{"t":5.4,"v":540,"s":2},{"t":5.44,"v":640,"s":2},{"t":5.48,"v":590,"s":2},{"t":5.52,"v":720,"s":2},{"t":5.56,"v":560,"s":2},{"t":5.6,"v":700,"s":2},{"t":5.65,"v":610,"s":2},
      {"t":8.19,"v":260,"s":3},{"t":8.23,"v":350,"s":3},{"t":8.27,"v":180,"s":3},{"t":8.31,"v":320,"s":3},{"t":8.35,"v":220,"s":3},{"t":8.39,"v":400,"s":3},{"t":8.43,"v":250,"s":3},{"t":8.47,"v":330,"s":3},{"t":8.51,"v":30,"s":3},{"t":8.55,"v":300,"s":3},{"t":8.59,"v":420,"s":3},{"t":8.63,"v":200,"s":3},{"t":8.67,"v":360,"s":3},{"t":8.71,"v":590,"s":3},{"t":8.75,"v":250,"s":3},{"t":8.79,"v":480,"s":3},{"t":8.83,"v":300,"s":3},{"t":8.87,"v":400,"s":3},{"t":8.91,"v":220,"s":3},{"t":8.95,"v":590,"s":3},{"t":9,"v":350,"s":3},
      {"t":11.42,"v":150,"s":4},{"t":11.45,"v":0,"s":4},{"t":11.48,"v":280,"s":4},{"t":11.51,"v":160,"s":4},{"t":11.54,"v":200,"s":4},
      {"t":15.76,"v":250,"s":6},{"t":15.8,"v":480,"s":6},{"t":15.84,"v":300,"s":6},{"t":15.88,"v":500,"s":6},{"t":15.92,"v":160,"s":6},{"t":15.96,"v":420,"s":6},{"t":16,"v":280,"s":6},{"t":16.04,"v":510,"s":6},{"t":16.08,"v":230,"s":6},{"t":16.12,"v":470,"s":6},{"t":16.16,"v":350,"s":6},{"t":16.2,"v":520,"s":6},{"t":16.24,"v":330,"s":6},{"t":16.28,"v":450,"s":6},{"t":16.32,"v":360,"s":6},{"t":16.36,"v":410,"s":6},
      {"t":18.93,"v":500,"s":7},{"t":18.97,"v":150,"s":7},{"t":19.01,"v":250,"s":7},{"t":19.05,"v":180,"s":7},{"t":19.09,"v":400,"s":7},{"t":19.13,"v":200,"s":7},{"t":19.17,"v":320,"s":7},{"t":19.21,"v":120,"s":7},{"t":19.25,"v":430,"s":7},{"t":19.29,"v":240,"s":7},{"t":19.33,"v":480,"s":7},{"t":19.37,"v":290,"s":7},{"t":19.41,"v":470,"s":7},{"t":19.45,"v":330,"s":7},{"t":19.49,"v":400,"s":7},{"t":19.53,"v":190,"s":7},{"t":19.57,"v":510,"s":7},{"t":19.61,"v":50,"s":7},{"t":19.65,"v":440,"s":7},{"t":19.69,"v":300,"s":7},{"t":19.73,"v":540,"s":7},{"t":19.77,"v":260,"s":7},{"t":19.81,"v":520,"s":7},{"t":19.83,"v":310,"s":7},
      {"t":24.73,"v":200,"s":9},{"t":24.77,"v":150,"s":9},{"t":24.81,"v":300,"s":9},{"t":24.85,"v":80,"s":9},{"t":24.89,"v":260,"s":9},{"t":24.93,"v":160,"s":9},{"t":24.97,"v":330,"s":9},{"t":25.01,"v":100,"s":9},{"t":25.05,"v":380,"s":9},{"t":25.09,"v":210,"s":9},{"t":25.13,"v":300,"s":9},{"t":25.17,"v":70,"s":9},{"t":25.21,"v":420,"s":9},{"t":25.25,"v":180,"s":9},{"t":25.29,"v":360,"s":9},{"t":25.33,"v":240,"s":9},{"t":25.37,"v":480,"s":9},{"t":25.41,"v":150,"s":9},{"t":25.45,"v":350,"s":9},{"t":25.49,"v":200,"s":9},{"t":25.53,"v":420,"s":9},{"t":25.57,"v":260,"s":9},{"t":25.61,"v":330,"s":9},{"t":25.65,"v":150,"s":9},{"t":25.69,"v":460,"s":9},{"t":25.73,"v":200,"s":9},{"t":25.77,"v":380,"s":9},{"t":25.81,"v":120,"s":9},{"t":25.85,"v":400,"s":9},{"t":25.89,"v":230,"s":9},{"t":25.93,"v":310,"s":9},{"t":25.97,"v":150,"s":9},{"t":26,"v":260,"s":9},
      {"t":28.55,"v":400,"s":10},{"t":28.59,"v":250,"s":10},{"t":28.63,"v":520,"s":10},{"t":28.67,"v":330,"s":10},{"t":28.71,"v":600,"s":10},{"t":28.75,"v":380,"s":10},{"t":28.79,"v":550,"s":10},{"t":28.83,"v":440,"s":10},{"t":28.87,"v":680,"s":10},{"t":28.91,"v":460,"s":10},{"t":28.95,"v":580,"s":10},{"t":28.99,"v":500,"s":10},{"t":29.03,"v":780,"s":10},{"t":29.07,"v":430,"s":10},{"t":29.11,"v":600,"s":10},{"t":29.15,"v":200,"s":10},{"t":29.19,"v":650,"s":10},{"t":29.23,"v":480,"s":10},{"t":29.27,"v":700,"s":10},{"t":29.31,"v":520,"s":10},{"t":29.35,"v":620,"s":10},{"t":29.39,"v":420,"s":10},{"t":29.43,"v":730,"s":10},{"t":29.47,"v":550,"s":10},{"t":29.51,"v":450,"s":10},
      {"t":32.77,"v":200,"s":11},{"t":32.81,"v":380,"s":11},{"t":32.85,"v":100,"s":11},{"t":32.89,"v":300,"s":11},{"t":32.93,"v":30,"s":11},{"t":32.97,"v":250,"s":11},{"t":33.01,"v":150,"s":11},{"t":33.05,"v":330,"s":11},{"t":33.09,"v":0,"s":11},{"t":33.13,"v":280,"s":11},{"t":33.17,"v":200,"s":11},{"t":33.21,"v":390,"s":11},{"t":33.25,"v":160,"s":11},{"t":33.29,"v":330,"s":11},{"t":33.33,"v":240,"s":11},{"t":33.37,"v":470,"s":11},{"t":33.41,"v":220,"s":11},{"t":33.45,"v":420,"s":11},{"t":33.49,"v":300,"s":11},{"t":33.53,"v":460,"s":11},{"t":33.57,"v":260,"s":11},{"t":33.61,"v":400,"s":11},{"t":33.65,"v":290,"s":11},{"t":33.69,"v":370,"s":11},{"t":33.71,"v":310,"s":11}
    ]
  },
  "spacing": 26,
  "vconcat": [
    {
      "width": 2536, "height": 515,
      "layer": [
        {
          "data": {"name": "zones"},
          "mark": {"type": "rect", "fillOpacity": 0.08, "strokeOpacity": 0.1, "strokeWidth": 1.5},
          "encoding": {
            "x": {"field": "a", "type": "quantitative", "scale": {"domain": [-1.8, 37.7], "nice": false, "zero": false}, "axis": {"values": [0, 5, 10, 15, 20, 25, 30, 35], "labels": false, "title": null, "grid": true}},
            "x2": {"field": "b"},
            "fill": {"field": "z", "type": "nominal", "scale": {"domain": ["COPD", "Kind"], "range": ["red", "purple"]}, "legend": null},
            "stroke": {"field": "z", "type": "nominal", "scale": {"domain": ["COPD", "Kind"], "range": ["red", "purple"]}, "legend": null}
          }
        },
        {
          "data": {"name": "co2"},
          "transform": [{"filter": "datum.c >= 4"}],
          "mark": {"type": "area", "opacity": 0.2},
          "encoding": {
            "x": {"field": "t", "type": "quantitative"},
            "y": {"field": "c", "type": "quantitative", "scale": {"domain": [-0.2, 7], "nice": false, "zero": false}, "axis": {"values": [0, 1, 2, 3, 4, 5, 6, 7], "title": "CO₂ [%]"}},
            "y2": {"datum": 4},
            "detail": {"field": "k", "type": "nominal"},
            "color": {
              "datum": "Über Schwellwert", "type": "nominal",
              "scale": {"domain": ["CO₂ [%]", "Gate-Schwellwert 4.0%", "Über Schwellwert"], "range": ["#3333ff", "orange", "orange"]},
              "legend": {
                "title": null,
                "symbolType": {"expr": "datum.value === 'Über Schwellwert' ? 'M-1,-0.36L1,-0.36L1,0.36L-1,0.36Z' : 'stroke'"},
                "symbolStrokeColor": {"expr": "datum.value === 'CO₂ [%]' ? '#3333ff' : 'orange'"},
                "symbolStrokeWidth": {"expr": "datum.value === 'Gate-Schwellwert 4.0%' ? 3 : 1.8"},
                "symbolDash": {"expr": "datum.value === 'Gate-Schwellwert 4.0%' ? [9, 5] : [1, 0]"},
                "symbolOpacity": {"expr": "datum.value === 'Über Schwellwert' ? 0.25 : 1"}
              }
            }
          }
        },
        {
          "data": {"name": "co2"},
          "mark": {"type": "line", "strokeWidth": 1.6, "color": "blue", "opacity": 0.8},
          "encoding": {
            "x": {"field": "t", "type": "quantitative"},
            "y": {"field": "c", "type": "quantitative"}
          }
        },
        {
          "data": {"values": [{"thr": 4}]},
          "mark": {"type": "rule", "strokeWidth": 2.8, "strokeDash": [15, 7], "color": "orange"},
          "encoding": {
            "y": {"field": "thr", "type": "quantitative"}
          }
        },
        {
          "data": {"name": "zones"},
          "mark": {"type": "text", "fontSize": 16.5, "fontWeight": "bold", "align": "center", "baseline": "middle"},
          "encoding": {
            "x": {"field": "m", "type": "quantitative"},
            "y": {"datum": 5.9},
            "text": {"field": "z"},
            "fill": {"field": "z", "type": "nominal"}
          }
        }
      ]
    },
    {
      "width": 2536, "height": 515,
      "layer": [
        {
          "data": {"name": "starts"},
          "mark": {"type": "rule", "color": "#b5b5b5", "strokeDash": [3, 4], "strokeWidth": 1.4},
          "encoding": {
            "x": {"field": "t", "type": "quantitative", "scale": {"domain": [-1.8, 37.7], "nice": false, "zero": false}, "axis": {"values": [0, 5, 10, 15, 20, 25, 30, 35], "labels": false, "title": null, "grid": true}}
          }
        },
        {
          "data": {"name": "gate"},
          "mark": {"type": "area", "interpolate": "step-after", "opacity": 1},
          "encoding": {
            "x": {"field": "t", "type": "quantitative"},
            "y": {"field": "g", "type": "quantitative", "scale": {"domain": [-0.1, 1.5], "nice": false, "zero": false}, "axis": {"values": [0, 1], "labelExpr": "datum.value == 1 ? 'Aktiv' : 'Inaktiv'", "title": "Gate [0/1]"}},
            "y2": {"datum": 0},
            "color": {
              "datum": "Gate AKTIV", "type": "nominal",
              "scale": {"domain": ["Gate AKTIV"], "range": ["#66b366"]},
              "legend": {
                "title": null,
                "symbolType": "M-1,-0.36L1,-0.36L1,0.36L-1,0.36Z",
                "symbolStrokeColor": "#2ca02c",
                "symbolStrokeWidth": 2,
                "symbolOpacity": 1
              }
            }
          }
        },
        {
          "data": {"name": "gate"},
          "mark": {"type": "line", "interpolate": "step-after", "color": "#2ca02c", "strokeWidth": 2},
          "encoding": {
            "x": {"field": "t", "type": "quantitative"},
            "y": {"field": "g", "type": "quantitative"}
          }
        }
      ]
    },
    {
      "width": 2536, "height": 515,
      "layer": [
        {
          "data": {"name": "mox"},
          "mark": {"type": "line", "strokeWidth": 1.5, "color": "#f08080", "opacity": 0.5},
          "encoding": {
            "x": {"field": "t", "type": "quantitative", "scale": {"domain": [-1.8, 37.7], "nice": false, "zero": false}, "axis": {"values": [0, 5, 10, 15, 20, 25, 30, 35], "title": "Zeit [s]", "titlePadding": 6, "grid": true}},
            "y": {"field": "v", "type": "quantitative", "scale": {"domain": [-50, 1400], "nice": false, "zero": false}, "axis": {"values": [0, 200, 400, 600, 800, 1000, 1200, 1400], "title": "Aceton-Signal [ppb]"}}
          }
        },
        {
          "data": {"name": "moxg"},
          "mark": {"type": "line", "strokeWidth": 3, "color": "red", "opacity": 0.9},
          "encoding": {
            "x": {"field": "t", "type": "quantitative"},
            "y": {"field": "v", "type": "quantitative"},
            "detail": {"field": "s", "type": "nominal"}
          }
        },
        {
          "data": {"values": [{"thr": 900}]},
          "mark": {"type": "rule", "strokeWidth": 2.6, "strokeDash": [11, 5], "opacity": 1},
          "encoding": {
            "y": {"field": "thr", "type": "quantitative"},
            "color": {
              "datum": "Klinischer Aceton-Bereich (~900 ppb)", "type": "nominal",
              "scale": {"domain": ["MOx-Rohsignal (Aceton WO₃)", "MOx-Signal (nur gated)", "Klinischer Aceton-Bereich (~900 ppb)"], "range": ["#f7bfbf", "#ff1a1a", "#ae4d4d"]},
              "legend": {
                "title": null,
                "symbolType": "stroke",
                "symbolStrokeWidth": {"expr": "datum.value === 'MOx-Signal (nur gated)' ? 3 : datum.value === 'Klinischer Aceton-Bereich (~900 ppb)' ? 2.6 : 1.6"},
                "symbolDash": {"expr": "datum.value === 'Klinischer Aceton-Bereich (~900 ppb)' ? [8, 4] : [1, 0]"},
                "symbolOpacity": 1
              }
            }
          }
        }
      ]
    }
  ]
}
